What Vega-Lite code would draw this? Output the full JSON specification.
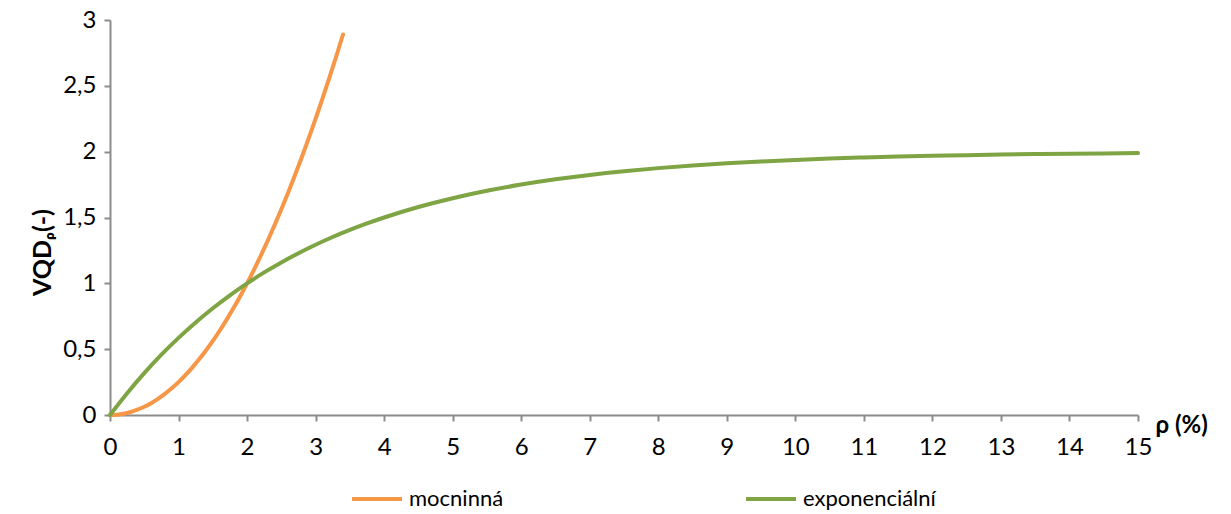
{
  "$schema": "https://vega.github.io/schema/vega-lite/v6.json",
  "width": 1028,
  "height": 395,
  "autosize": {"type": "none"},
  "padding": {"left": 110, "top": 20, "right": 93, "bottom": 99},
  "background": "white",
  "config": {
    "view": {"stroke": null},
    "font": "Lato",
    "axis": {
      "grid": false,
      "domainColor": "#8c8c8c",
      "domainWidth": 2,
      "tickColor": "#8c8c8c",
      "tickWidth": 2,
      "tickSize": 6,
      "labelColor": "#000000",
      "labelFont": "Lato",
      "labelFontSize": 24,
      "labelFlush": false,
      "labelOverlap": false,
      "titleColor": "#000000",
      "titleFont": "Lato"
    }
  },
  "data": {
    "values": [
      {"rho": 0, "vqd": 0, "series": "mocninná"},
      {"rho": 0.1, "vqd": 0.0025, "series": "mocninná"},
      {"rho": 0.2, "vqd": 0.01, "series": "mocninná"},
      {"rho": 0.3, "vqd": 0.0225, "series": "mocninná"},
      {"rho": 0.4, "vqd": 0.04, "series": "mocninná"},
      {"rho": 0.5, "vqd": 0.0625, "series": "mocninná"},
      {"rho": 0.6, "vqd": 0.09, "series": "mocninná"},
      {"rho": 0.7, "vqd": 0.1225, "series": "mocninná"},
      {"rho": 0.8, "vqd": 0.16, "series": "mocninná"},
      {"rho": 0.9, "vqd": 0.2025, "series": "mocninná"},
      {"rho": 1.0, "vqd": 0.25, "series": "mocninná"},
      {"rho": 1.1, "vqd": 0.3025, "series": "mocninná"},
      {"rho": 1.2, "vqd": 0.36, "series": "mocninná"},
      {"rho": 1.3, "vqd": 0.4225, "series": "mocninná"},
      {"rho": 1.4, "vqd": 0.49, "series": "mocninná"},
      {"rho": 1.5, "vqd": 0.5625, "series": "mocninná"},
      {"rho": 1.6, "vqd": 0.64, "series": "mocninná"},
      {"rho": 1.7, "vqd": 0.7225, "series": "mocninná"},
      {"rho": 1.8, "vqd": 0.81, "series": "mocninná"},
      {"rho": 1.9, "vqd": 0.9025, "series": "mocninná"},
      {"rho": 2.0, "vqd": 1.0, "series": "mocninná"},
      {"rho": 2.1, "vqd": 1.1025, "series": "mocninná"},
      {"rho": 2.2, "vqd": 1.21, "series": "mocninná"},
      {"rho": 2.3, "vqd": 1.3225, "series": "mocninná"},
      {"rho": 2.4, "vqd": 1.44, "series": "mocninná"},
      {"rho": 2.5, "vqd": 1.5625, "series": "mocninná"},
      {"rho": 2.6, "vqd": 1.69, "series": "mocninná"},
      {"rho": 2.7, "vqd": 1.8225, "series": "mocninná"},
      {"rho": 2.8, "vqd": 1.96, "series": "mocninná"},
      {"rho": 2.9, "vqd": 2.1025, "series": "mocninná"},
      {"rho": 3.0, "vqd": 2.25, "series": "mocninná"},
      {"rho": 3.1, "vqd": 2.4025, "series": "mocninná"},
      {"rho": 3.2, "vqd": 2.56, "series": "mocninná"},
      {"rho": 3.3, "vqd": 2.7225, "series": "mocninná"},
      {"rho": 3.4, "vqd": 2.89, "series": "mocninná"},
      {"rho": 0, "vqd": 0, "series": "exponenciální"},
      {"rho": 0.25, "vqd": 0.166, "series": "exponenciální"},
      {"rho": 0.5, "vqd": 0.3182, "series": "exponenciální"},
      {"rho": 0.75, "vqd": 0.4578, "series": "exponenciální"},
      {"rho": 1.0, "vqd": 0.5858, "series": "exponenciální"},
      {"rho": 1.25, "vqd": 0.7032, "series": "exponenciální"},
      {"rho": 1.5, "vqd": 0.8108, "series": "exponenciální"},
      {"rho": 1.75, "vqd": 0.9094, "series": "exponenciální"},
      {"rho": 2.0, "vqd": 1.0, "series": "exponenciální"},
      {"rho": 2.25, "vqd": 1.083, "series": "exponenciální"},
      {"rho": 2.5, "vqd": 1.1591, "series": "exponenciální"},
      {"rho": 2.75, "vqd": 1.2289, "series": "exponenciální"},
      {"rho": 3.0, "vqd": 1.2929, "series": "exponenciální"},
      {"rho": 3.25, "vqd": 1.3516, "series": "exponenciální"},
      {"rho": 3.5, "vqd": 1.4054, "series": "exponenciální"},
      {"rho": 3.75, "vqd": 1.4547, "series": "exponenciální"},
      {"rho": 4.0, "vqd": 1.5, "series": "exponenciální"},
      {"rho": 4.5, "vqd": 1.5796, "series": "exponenciální"},
      {"rho": 5.0, "vqd": 1.6464, "series": "exponenciální"},
      {"rho": 5.5, "vqd": 1.7027, "series": "exponenciální"},
      {"rho": 6.0, "vqd": 1.75, "series": "exponenciální"},
      {"rho": 6.5, "vqd": 1.7898, "series": "exponenciální"},
      {"rho": 7.0, "vqd": 1.8232, "series": "exponenciální"},
      {"rho": 7.5, "vqd": 1.8513, "series": "exponenciální"},
      {"rho": 8.0, "vqd": 1.875, "series": "exponenciální"},
      {"rho": 8.5, "vqd": 1.8949, "series": "exponenciální"},
      {"rho": 9.0, "vqd": 1.9116, "series": "exponenciální"},
      {"rho": 9.5, "vqd": 1.9257, "series": "exponenciální"},
      {"rho": 10.0, "vqd": 1.9375, "series": "exponenciální"},
      {"rho": 10.5, "vqd": 1.9474, "series": "exponenciální"},
      {"rho": 11.0, "vqd": 1.9558, "series": "exponenciální"},
      {"rho": 11.5, "vqd": 1.9628, "series": "exponenciální"},
      {"rho": 12.0, "vqd": 1.96875, "series": "exponenciální"},
      {"rho": 12.5, "vqd": 1.9737, "series": "exponenciální"},
      {"rho": 13.0, "vqd": 1.9779, "series": "exponenciální"},
      {"rho": 13.5, "vqd": 1.9814, "series": "exponenciální"},
      {"rho": 14.0, "vqd": 1.9844, "series": "exponenciální"},
      {"rho": 14.5, "vqd": 1.9869, "series": "exponenciální"},
      {"rho": 15.0, "vqd": 1.989, "series": "exponenciální"}
    ]
  },
  "mark": {"type": "line", "strokeWidth": 4, "interpolate": "monotone", "strokeCap": "round"},
  "encoding": {
    "x": {
      "field": "rho",
      "type": "quantitative",
      "scale": {"domain": [0, 15], "nice": false},
      "axis": {
        "values": [0,1,2,3,4,5,6,7,8,9,10,11,12,13,14,15],
        "labelPadding": 14,
        "title": "ρ (%)",
        "titleFontSize": 24,
        "titleFontWeight": "bold",
        "titleAngle": 0,
        "titleAlign": "left",
        "titleBaseline": "middle",
        "titleAnchor": null,
        "titleX": 1045,
        "titleY": 10
      }
    },
    "y": {
      "field": "vqd",
      "type": "quantitative",
      "scale": {"domain": [0, 3], "nice": false},
      "axis": {
        "values": [0, 0.5, 1, 1.5, 2, 2.5, 3],
        "format": "~g",
        "labelExpr": "replace(datum.label, '.', ',')",
        "labelPadding": 8,
        "title": "VQDᵨ(-)",
        "titleFontSize": 25,
        "titleFontWeight": "bold",
        "titleAngle": -90,
        "titleAlign": "center",
        "titleBaseline": "middle",
        "titleX": -68,
        "titleY": 232
      }
    },
    "color": {
      "field": "series",
      "type": "nominal",
      "sort": ["mocninná", "exponenciální"],
      "scale": {"domain": ["mocninná", "exponenciální"], "range": ["#F79646", "#7EA444"]},
      "legend": {
        "title": null,
        "orient": "none",
        "direction": "horizontal",
        "legendX": 240,
        "legendY": 452,
        "symbolType": "stroke",
        "symbolSize": 2500,
        "symbolStrokeWidth": 4,
        "labelFont": "Lato",
        "labelFontSize": 22,
        "labelColor": "#000000",
        "labelOffset": 5,
        "columnPadding": 234
      }
    }
  }
}
